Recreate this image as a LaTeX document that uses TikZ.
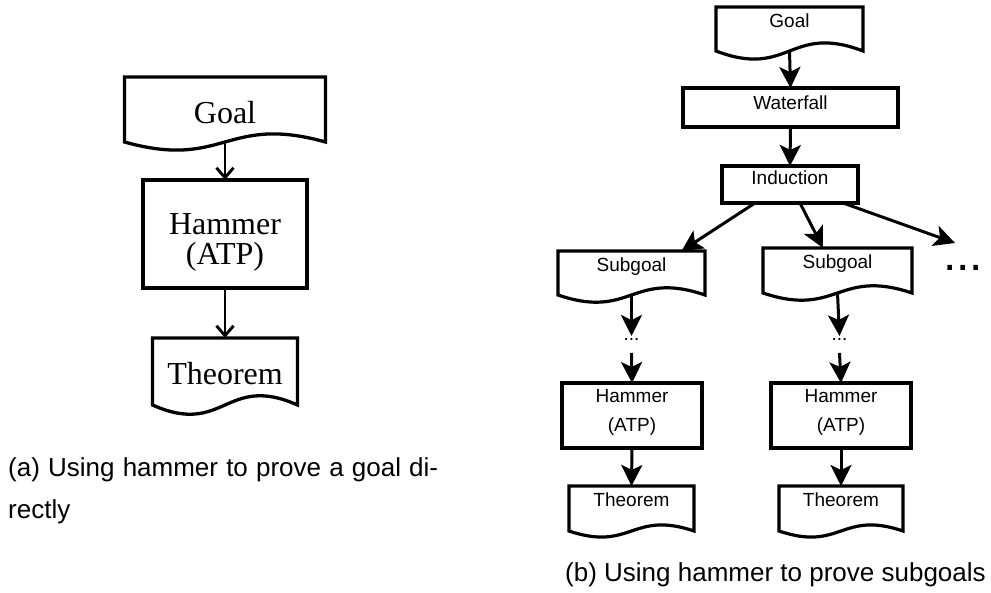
\documentclass[tikz,border=0pt]{standalone}
\usepackage{fontspec}
\setmainfont{Liberation Serif}
\newfontfamily\capsans{Liberation Sans}
\usetikzlibrary{arrows.meta}

% document symbol: flat top, wavy bottom between the south corners
\newcommand\docoutline[4]{%
  \draw[#4] (#1.north west) -- (#1.north east) -- (#1.south east)
    .. controls +(-#2,-#3) and +(#2,#3) .. (#1.south west) -- cycle;}

\begin{document}
\begin{tikzpicture}[x=1pt,y=-1pt,
  serifnode/.style={font=\fontsize{32}{28}\selectfont, inner sep=0pt, outer sep=0pt},
  leftbox/.style={serifnode, draw, rectangle, line width=3.3pt},
  leftline/.style={line width=3.3pt, line join=miter},
  sansnode/.style={font=\capsans\fontsize{19}{29}\selectfont, inner sep=0pt, outer sep=0pt},
  rightbox/.style={sansnode, draw, rectangle, line width=3.2pt},
  rightline/.style={line width=3.2pt, line join=miter},
  leftarrow/.style={line width=2.9pt, -{Straight Barb[length=10pt,width=17pt]}},
  rightarrow/.style={line width=3pt, -{Stealth[length=21pt,width=21pt,inset=5pt]}},
  caption/.style={font=\capsans\fontsize{26}{30}\selectfont, inner sep=0pt, anchor=base west},
]
\useasboundingbox (0,0) rectangle (991,593);

% ---------- (a) direct proof ----------
\node[serifnode, minimum width=201pt, minimum height=65pt, text height=28pt, text depth=0pt]
  (goalA) at (225,109.5) {Goal};
\node[leftbox, minimum width=164pt, minimum height=108pt, text height=62pt, text depth=0pt]
  (hammerA) at (225,234) {\begin{tabular}[b]{@{}c@{}}Hammer\\(ATP)\end{tabular}};
\node[serifnode, minimum width=145pt, minimum height=67pt, text height=27pt, text depth=0pt]
  (theoremA) at (225,371.5) {Theorem};
\docoutline{goalA}{100}{28}{leftline}
\docoutline{theoremA}{72}{32}{leftline}

\draw[leftarrow] (goalA.south) -- (hammerA.north);
\draw[leftarrow] (hammerA.south) -- (theoremA.north);

\node[caption] (capA1) at (8,476) {\makebox[430pt][s]{(a) Using hammer to prove a goal di-}};
\node[caption] (capA2) at (8,518) {rectly};

% ---------- (b) proof through subgoals ----------
\node[sansnode, minimum width=147pt, minimum height=44pt, text height=0pt, text depth=2pt]
  (goalB) at (789.5,29) {Goal};
\node[rightbox, minimum width=215pt, minimum height=39pt, text height=5pt, text depth=0pt]
  (waterfall) at (790.5,107.5) {Waterfall};
\node[rightbox, minimum width=136pt, minimum height=37pt, text height=1pt, text depth=0pt]
  (induction) at (790,184.5) {Induction};
\node[sansnode, minimum width=147pt, minimum height=44pt, text height=0pt, text depth=2pt]
  (subgoalL) at (631.5,273) {Subgoal};
\node[sansnode, minimum width=149pt, minimum height=45pt, text height=0pt, text depth=3pt]
  (subgoalR) at (837.5,270.5) {Subgoal};
\node[sansnode, text height=5pt, text depth=12pt] (dotsL) at (631.5,344.5) {...};
\node[sansnode, text height=5pt, text depth=12pt] (dotsR) at (839.5,344.5) {...};
\node[rightbox, minimum width=140pt, minimum height=65pt, text height=33pt, text depth=0pt]
  (hammerL) at (632,415.5) {\begin{tabular}[b]{@{}c@{}}Hammer\\(ATP)\end{tabular}};
\node[rightbox, minimum width=140pt, minimum height=65pt, text height=33pt, text depth=0pt]
  (hammerR) at (841,415.5) {\begin{tabular}[b]{@{}c@{}}Hammer\\(ATP)\end{tabular}};
\node[sansnode, minimum width=125pt, minimum height=45pt, text height=0pt, text depth=5pt]
  (theoremL) at (631.5,508.5) {Theorem};
\node[sansnode, minimum width=124pt, minimum height=45pt, text height=0pt, text depth=5pt]
  (theoremR) at (841,508.5) {Theorem};
\node[font=\capsans\fontsize{48}{50}\selectfont, inner sep=0pt, anchor=base west]
  (more) at (943,271) {...};
\coordinate (moretip) at (955,243);

\docoutline{goalB}{73.5}{28}{rightline}
\docoutline{subgoalL}{73.5}{25}{rightline}
\docoutline{subgoalR}{74.5}{25}{rightline}
\docoutline{theoremL}{62.5}{21}{rightline}
\docoutline{theoremR}{62}{21}{rightline}

\draw[rightarrow] (goalB.south) -- (waterfall.north);
\draw[rightarrow] (waterfall.south) -- (induction.north);
\draw[rightarrow] ([xshift=-35pt]induction.south) -- ([xshift=50pt]subgoalL.north);
\draw[rightarrow] ([xshift=10pt]induction.south) -- ([xshift=-14.5pt]subgoalR.north);
\draw[rightarrow] ([xshift=53pt]induction.south) -- (moretip);
\draw[rightarrow] (subgoalL.south) -- (dotsL.north);
\draw[rightarrow] (subgoalR.south) -- (dotsR.north);
\draw[rightarrow] (dotsL.south) -- (hammerL.north);
\draw[rightarrow] (dotsR.south) -- (hammerR.north);
\draw[rightarrow] (hammerL.south) -- (theoremL.north);
\draw[rightarrow] (hammerR.south) -- (theoremR.north);

\node[caption] (capB) at (565,581) {(b) Using hammer to prove subgoals};
\end{tikzpicture}
\end{document}
